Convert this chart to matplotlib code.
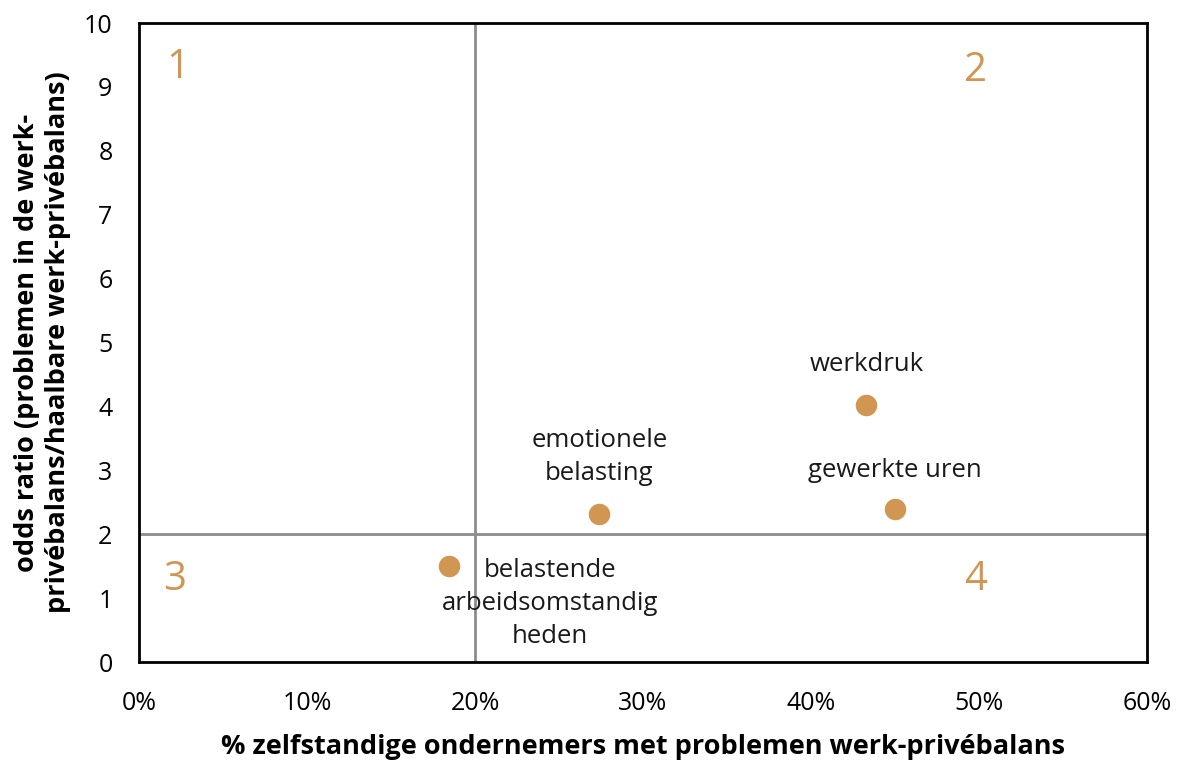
import matplotlib.pyplot as plt
from matplotlib.ticker import FuncFormatter

plt.rcParams['font.family'] = ['Open Sans', 'DejaVu Sans']

# data
factoren = ['werkdruk', 'gewerkte uren', 'emotionele\nbelasting',
            'belastende\narbeidsomstandig\nheden']
pct_problemen = [43.3, 45.0, 27.4, 18.45]
odds_ratio = [4.02, 2.39, 2.32, 1.50]

kwadranten = ['1', '2', '3', '4']
kwadrant_x = [2.3, 49.8, 2.1, 49.8]
kwadrant_y = [9.3, 9.25, 1.28, 1.28]

grens_x = 20
grens_y = 2

oranje = '#D29653'
grijs = '#8C8C8C'

fig = plt.figure(figsize=(11.81, 7.62), dpi=100)
ax = fig.add_axes([0.1177, 0.1312, 0.9712 - 0.1177, 0.9698 - 0.1312])

ax.axvline(grens_x, color=grijs, linewidth=2, zorder=1)
ax.axhline(grens_y, color=grijs, linewidth=2, zorder=1)

ax.scatter(pct_problemen, odds_ratio, s=240, color=oranje, zorder=3, linewidths=0)

# label offsets in points (boven het punt, behalve de laatste)
offsets = [(0, 29), (0, 28), (0, 41), (73, -27)]
for naam, x, y, off in zip(factoren, pct_problemen, odds_ratio, offsets):
    ax.annotate(naam, (x, y), xytext=off, textcoords='offset points',
                ha='center', va='center', fontsize=18.5, color='#1a1a1a',
                linespacing=1.42, zorder=4)

for k, x, y in zip(kwadranten, kwadrant_x, kwadrant_y):
    ax.text(x, y, k, ha='center', va='center', fontsize=29, color=oranje)

ax.set_xlim(0, 60)
ax.set_ylim(0, 10)
ax.set_xticks(range(0, 61, 10))
ax.set_yticks(range(0, 11))
ax.xaxis.set_major_formatter(FuncFormatter(lambda v, p: f'{v:.0f}%'))
ax.tick_params(length=0, labelsize=18, pad=19)
ax.tick_params(axis='x', pad=21)

for s in ax.spines.values():
    s.set_linewidth(2)
    s.set_color('black')

ax.set_xlabel('% zelfstandige ondernemers met problemen werk-privébalans',
              fontsize=19.5, fontweight='bold', labelpad=13)
ax.set_ylabel('odds ratio (problemen in de werk-\nprivébalans/haalbare werk-privébalans)',
              fontsize=19.5, fontweight='bold', labelpad=9, linespacing=1.25)

fig.savefig('out.png', dpi=100)
